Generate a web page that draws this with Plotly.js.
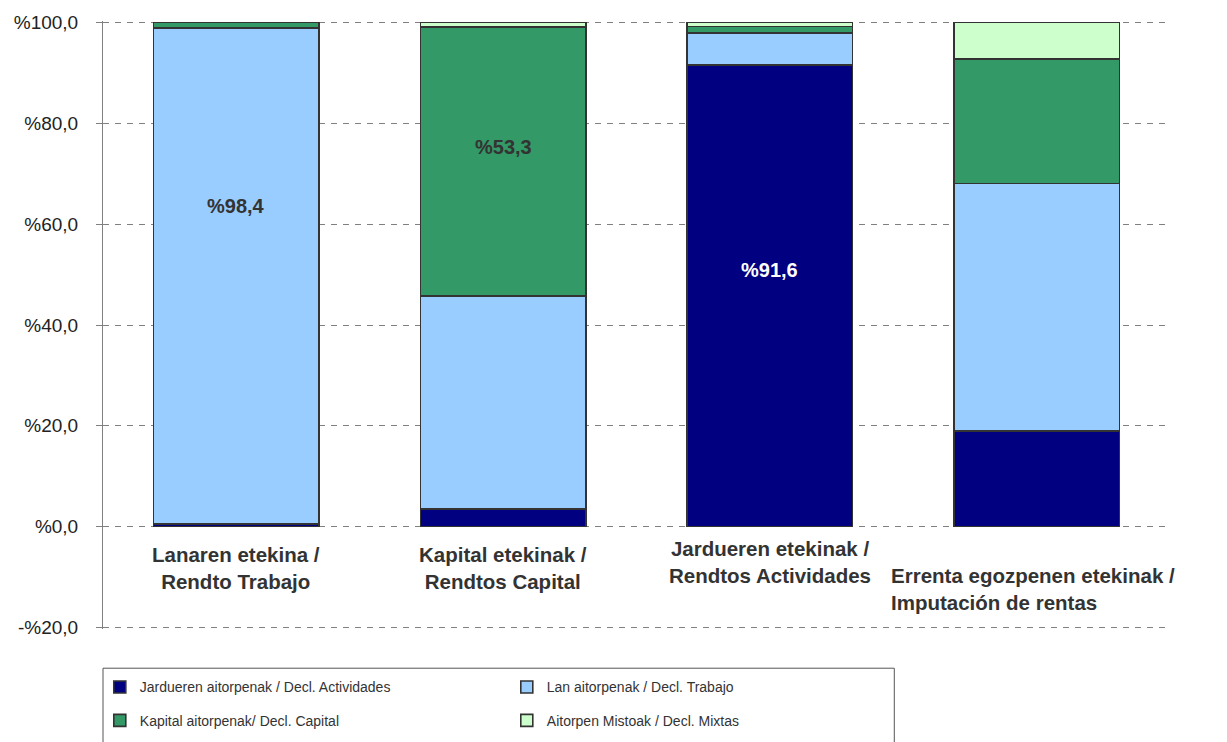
<!DOCTYPE html>
<html>
<head>
<meta charset="utf-8">
<script src="https://cdn.plot.ly/plotly-3.0.1.min.js"></script>
<style>html,body{margin:0;padding:0;background:#fff;}#chart{width:1227px;height:742px;}</style>
</head>
<body>
<div id="chart"></div>
<script>
// ---- Data ----
var categories = [
  "Lanaren etekina /<br>Rendto Trabajo",
  "Kapital etekinak /<br>Rendtos Capital",
  "Jardueren etekinak /<br>Rendtos Actividades",
  "Errenta egozpenen etekinak /<br>Imputación de rentas"
];
var seriesNames = [
  "Jardueren aitorpenak / Decl. Actividades",
  "Lan aitorpenak / Decl. Trabajo",
  "Kapital aitorpenak/ Decl. Capital",
  "Aitorpen Mistoak / Decl. Mixtas"
];
var jardueren = [0.5, 3.5, 91.6, 19.0];
var lan       = [98.4, 42.3, 6.3, 49.1];
var kapital   = [1.1, 53.3, 1.3, 24.7];
var mixtas    = [0.0, 0.9, 0.8, 7.2];
var tickVals  = [-20, 0, 20, 40, 60, 80, 100];
var tickText  = ["-%20,0", "%0,0", "%20,0", "%40,0", "%60,0", "%80,0", "%100,0"];

var colors = ["#000080", "#99CCFF", "#339966", "#CCFFCC"];
var FONT = "Liberation Sans, Arial, sans-serif";
var xIdx = categories.map(function(_, i){ return i; });

function fmt(v){ return "%" + v.toFixed(1).replace(".", ","); }

var seriesData = [jardueren, lan, kapital, mixtas];
var legendIds = ["legend", "legend", "legend2", "legend2"];
var traces = seriesData.map(function(vals, k){
  return {
    type: "bar",
    name: seriesNames[k],
    x: xIdx,
    y: vals,
    width: 0.62,
    marker: {color: colors[k], line: {color: "#333333", width: 1.6}},
    legend: legendIds[k],
    hoverinfo: "y+name"
  };
});

var annotations = [];
// category labels
var catPos = [
  {x: 0, y: 0.101, xref: "x", xanchor: "center", align: "center"},
  {x: 1, y: 0.101, xref: "x", xanchor: "center", align: "center"},
  {x: 2, y: 0.11, xref: "x", xanchor: "center", align: "center"},
  {x: 0.737, y: 0.066, xref: "paper", xanchor: "left", align: "left"}
];
categories.forEach(function(c, i){
  var p = catPos[i];
  annotations.push({
    text: "<b>" + c + "</b>", x: p.x, xref: p.xref, y: p.y, yref: "paper",
    xanchor: p.xanchor, yanchor: "middle", align: p.align, showarrow: false,
    font: {family: FONT, size: 20.5, color: "#333333"}
  });
});
// data labels
annotations.push({text: "<b>" + fmt(lan[0]) + "</b>", x: 0, y: 63.6, xref: "x", yref: "y", showarrow: false,
  font: {family: FONT, size: 20, color: "#333333"}});
annotations.push({text: "<b>" + fmt(kapital[1]) + "</b>", x: 1, y: 75.4, xref: "x", yref: "y", showarrow: false,
  font: {family: FONT, size: 20, color: "#333333"}});
annotations.push({text: "<b>" + fmt(jardueren[2]) + "</b>", x: 2, y: 51.0, xref: "x", yref: "y", showarrow: false,
  font: {family: FONT, size: 20, color: "#ffffff"}});

var layout = {
  width: 1227, height: 742,
  margin: {l: 103, r: 57, t: 21, b: 113, autoexpand: false},
  paper_bgcolor: "#ffffff", plot_bgcolor: "#ffffff",
  barmode: "stack",
  showlegend: true,
  font: {family: FONT, size: 14, color: "#333333"},
  xaxis: {
    type: "linear", range: [-0.5, 3.5], showticklabels: false, showgrid: false,
    zeroline: false, showline: false, ticks: "", fixedrange: true
  },
  yaxis: {
    range: [-20.3, 100.3], tickvals: tickVals, ticktext: tickText,
    showgrid: true, gridcolor: "#808080", griddash: "6px,6px", gridwidth: 1,
    zeroline: false, showline: true, linecolor: "#808080", linewidth: 1,
    ticks: "outside", ticklen: 6, tickcolor: "#808080", ticklabelstandoff: 14,
    tickfont: {family: FONT, size: 19, color: "#222222"}, fixedrange: true
  },
  legend: {
    orientation: "h", x: -0.003, xanchor: "left", y: -0.096, yanchor: "middle",
    entrywidth: 362, entrywidthmode: "pixels", bgcolor: "rgba(0,0,0,0)",
    font: {family: FONT, size: 14, color: "#333333"}, traceorder: "normal"
  },
  legend2: {
    orientation: "h", x: -0.003, xanchor: "left", y: -0.151, yanchor: "middle",
    entrywidth: 362, entrywidthmode: "pixels", bgcolor: "rgba(0,0,0,0)",
    font: {family: FONT, size: 14, color: "#333333"}, traceorder: "normal"
  },
  shapes: [{
    type: "rect", xref: "paper", yref: "paper", x0: 0, x1: 0.7416, y0: -0.0645, y1: -0.21,
    line: {color: "#555555", width: 1}, fillcolor: "rgba(0,0,0,0)", layer: "below"
  }],
  annotations: annotations
};

Plotly.newPlot("chart", traces, layout, {displayModeBar: false, staticPlot: true});
</script>
</body>
</html>
